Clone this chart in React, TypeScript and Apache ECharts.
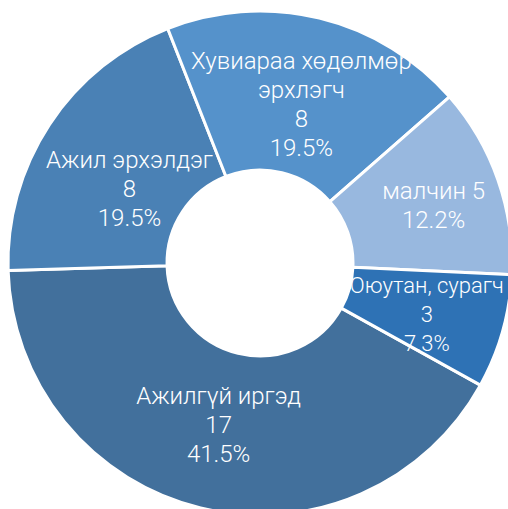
import React, { useEffect, useRef } from "react";
import * as echarts from "echarts";

const categories = ["Ажилгүй иргэд", "Ажил эрхэлдэг", "Хувиараа хөдөлмөр\nэрхлэгч", "малчин", "Оюутан, сурагч"];
const values = [17, 8, 8, 5, 3];
const colors = ["#42709c", "#4a81b5", "#5592cb", "#98b8df", "#2e72b5"];
const labelShift = [[0, -9], [16, 23], [0, 12], [8, 0], [-2, 4]];
const labelSizes = [24, 24, 24, 24, 22];

export default function App() {
  const ref = useRef<HTMLDivElement>(null);
  useEffect(() => {
    document.body.style.margin = "0";
    const chart = echarts.init(ref.current!, undefined, { renderer: "svg" });
    const total = values.reduce((a, b) => a + b, 0);
    chart.setOption({
      animation: false,
      series: [
        {
          type: "pie",
          center: [260, 263],
          radius: [93, 252],
          startAngle: 331,
          clockwise: true,
          avoidLabelOverlap: false,
          itemStyle: { borderColor: "#ffffff", borderWidth: 3 },
          label: {
            show: true,
            position: "inside",
            color: "#ffffff",
            fontFamily: "Roboto",
            fontWeight: 300,
            fontSize: 24,
            lineHeight: 29,
            align: "center",
            formatter: (p: any) => {
              const pct = ((p.value / total) * 100).toFixed(1) + "%";
              const sep = p.name === "малчин" ? " " : "\n";
              return p.name + sep + p.value + "\n" + pct;
            },
          },
          labelLayout: (params: any) => {
            const s = labelShift[params.dataIndex] || [0, 0];
            return { dx: s[0], dy: s[1] };
          },
          labelLine: { show: false },
          data: categories.map((c, i) => ({
            name: c,
            value: values[i],
            itemStyle: { color: colors[i] },
            label: { fontSize: labelSizes[i] },
          })),
        },
      ],
    });
    return () => chart.dispose();
  }, []);
  return <div ref={ref} style={{ width: 508, height: 509 }} />;
}
